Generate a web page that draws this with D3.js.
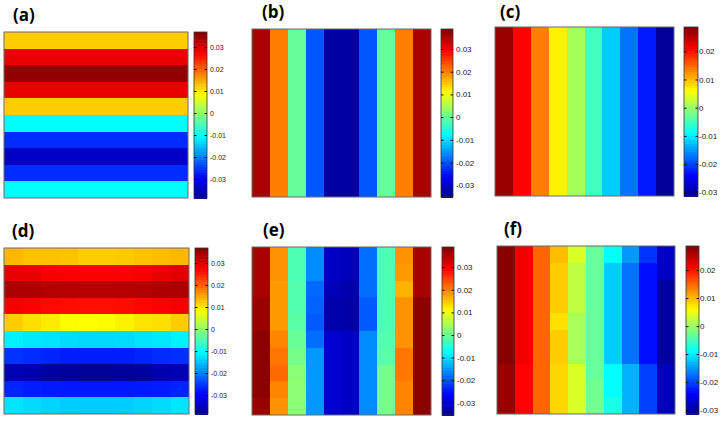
<!DOCTYPE html>
<html>
<head>
<meta charset="utf-8">
<script src="https://cdn.jsdelivr.net/npm/d3@7"></script>
<style>
body { margin: 0; background: #fff; }
svg { display: block; }
rect.cell, rect.step { shape-rendering: crispEdges; }
.cb text { font-family: Arial, "Liberation Sans", sans-serif; fill: #222; }
.plabel { font-family: "Open Sans", sans-serif; font-weight: bold; font-size: 17px; fill: #000; }
</style>
</head>
<body>
<svg id="chart" width="726" height="421"></svg>
<script>
// (a) one value per row, top to bottom
var rowsA = [0.0123, 0.029, 0.0355, 0.029, 0.0123, -0.0105, -0.026, -0.034, -0.026, -0.0105];
// (b) and (c) one value per column, left to right
var colsB = [0.0358, 0.0203, -0.0002, -0.0197, -0.0335, -0.0335, -0.0197, -0.0002, 0.0203, 0.0358];
var colsC = [0.0271, 0.021, 0.0136, 0.0069, 0.0009, -0.0051, -0.0118, -0.017, -0.0223, -0.0306];

// (d), (e), (f) full 10x10 grids, row by row
var gridD = [
  [0.0138, 0.0132, 0.0132, 0.013, 0.0123, 0.0123, 0.0125, 0.013, 0.0135, 0.0138],
  [0.029, 0.029, 0.028, 0.0275, 0.0274, 0.0274, 0.0275, 0.028, 0.029, 0.0296],
  [0.0335, 0.0333, 0.033, 0.0328, 0.0327, 0.0327, 0.0328, 0.033, 0.0333, 0.0335],
  [0.028, 0.0275, 0.0268, 0.0265, 0.0264, 0.0264, 0.0265, 0.027, 0.0275, 0.028],
  [0.0123, 0.011, 0.010, 0.0088, 0.0085, 0.0088, 0.0095, 0.0105, 0.011, 0.0123],
  [-0.0113, -0.012, -0.0125, -0.013, -0.0132, -0.0132, -0.013, -0.0125, -0.012, -0.0113],
  [-0.0254, -0.026, -0.0265, -0.027, -0.027, -0.027, -0.027, -0.0265, -0.026, -0.0258],
  [-0.0355, -0.036, -0.0368, -0.0375, -0.0377, -0.0377, -0.0375, -0.037, -0.036, -0.0355],
  [-0.0265, -0.027, -0.0273, -0.0275, -0.0275, -0.0275, -0.0275, -0.0273, -0.027, -0.0265],
  [-0.0122, -0.013, -0.0135, -0.014, -0.0141, -0.0141, -0.014, -0.0135, -0.013, -0.0122]
];
var gridE = [
  [0.036, 0.019, -0.002, -0.016, -0.031, -0.032, -0.018, -0.002, 0.019, 0.036],
  [0.036, 0.019, -0.002, -0.016, -0.031, -0.032, -0.018, -0.002, 0.0185, 0.036],
  [0.036, 0.0185, -0.0015, -0.0185, -0.032, -0.033, -0.018, -0.002, 0.0166, 0.036],
  [0.037, 0.0185, -0.0015, -0.019, -0.033, -0.0335, -0.0195, -0.002, 0.019, 0.038],
  [0.037, 0.0185, -0.001, -0.0195, -0.033, -0.0335, -0.0195, -0.002, 0.019, 0.038],
  [0.038, 0.020, 0.000, -0.018, -0.030, -0.031, -0.016, -0.0015, 0.019, 0.038],
  [0.038, 0.021, 0.001, -0.015, -0.030, -0.031, -0.016, -0.001, 0.021, 0.038],
  [0.038, 0.022, 0.0025, -0.015, -0.030, -0.031, -0.016, 0.001, 0.021, 0.038],
  [0.038, 0.020, 0.0027, -0.015, -0.030, -0.031, -0.016, 0.001, 0.020, 0.038],
  [0.037, 0.019, 0.0025, -0.015, -0.030, -0.031, -0.016, 0.001, 0.020, 0.038]
];
var gridF = [
  [0.028, 0.0219, 0.0151, 0.0099, 0.0039, -0.0029, -0.0089, -0.0149, -0.0209, -0.0277],
  [0.028, 0.0219, 0.0151, 0.0091, 0.0024, -0.0029, -0.0119, -0.0172, -0.0232, -0.0277],
  [0.028, 0.0219, 0.0151, 0.0091, 0.0024, -0.0029, -0.0119, -0.0172, -0.0232, -0.0299],
  [0.028, 0.0219, 0.0151, 0.0091, 0.0024, -0.0029, -0.0119, -0.0172, -0.0232, -0.0299],
  [0.028, 0.0219, 0.0151, 0.0079, 0.0009, -0.0029, -0.0119, -0.0172, -0.0232, -0.0299],
  [0.028, 0.0219, 0.0151, 0.0091, 0.0009, -0.0029, -0.0119, -0.0172, -0.0232, -0.0299],
  [0.028, 0.0219, 0.0151, 0.0091, 0.0009, -0.0029, -0.0119, -0.0172, -0.0232, -0.0299],
  [0.027, 0.021, 0.0151, 0.0085, 0.0039, -0.0029, -0.0089, -0.0134, -0.0202, -0.0284],
  [0.027, 0.021, 0.0151, 0.0085, 0.0039, -0.0022, -0.0089, -0.0134, -0.0202, -0.0284],
  [0.027, 0.021, 0.0151, 0.0085, 0.0039, -0.0022, -0.0074, -0.0134, -0.0202, -0.0284]
];

// colorbar limits
var limA = [-0.0386, 0.0368], limB = [-0.0352, 0.0388], limC = [-0.0313, 0.0286];
var limD = [-0.0386, 0.0368], limE = [-0.0354, 0.0389], limF = [-0.0314, 0.0286];
var ticks7 = [-0.03, -0.02, -0.01, 0, 0.01, 0.02, 0.03];
var ticks6 = [-0.03, -0.02, -0.01, 0, 0.01, 0.02];
var panelNames = ['(a)', '(b)', '(c)', '(d)', '(e)', '(f)'];

// jet colormap
var jetStops = [0, 0.125, 0.375, 0.625, 0.875, 1];
var jetColors = ['#00008f', '#0000ff', '#00ffff', '#ffff00', '#ff0000', '#800000'];

var svg = d3.select('#chart');

function jetScale(lim){
	return d3.scaleLinear()
		.domain(jetStops.map(function(t){ return lim[0] + t*(lim[1]-lim[0]); }))
		.range(jetColors)
		.clamp(true);
}

// mode: 'rows' (one value per row), 'cols' (one per column) or 'grid'
function drawPanel(p){
	var g = svg.append('g');
	var color = jetScale(p.lim);
	var xs = d3.scaleBand().domain(d3.range(10)).range([p.x0, p.x1]);
	var ys = d3.scaleBand().domain(d3.range(10)).range([p.y0, p.y1]);

	var cells = [];
	for(var i=0; i<10; i++){
		for(var j=0; j<10; j++){
			var v;
			if(p.mode=='rows') v = p.data[i];
			else if(p.mode=='cols') v = p.data[j];
			else v = p.data[i][j];
			cells.push({r:i, c:j, v:v});
		}
	}
	g.selectAll('rect.cell').data(cells).enter().append('rect')
		.attr('class', 'cell')
		.attr('x', function(d){ return Math.round(xs(d.c)); })
		.attr('y', function(d){ return Math.round(ys(d.r)); })
		.attr('width', function(d){ return Math.round(xs(d.c)+xs.bandwidth()) - Math.round(xs(d.c)); })
		.attr('height', function(d){ return Math.round(ys(d.r)+ys.bandwidth()) - Math.round(ys(d.r)); })
		.attr('fill', function(d){ return color(d.v); });

	g.append('rect')
		.attr('x', p.x0).attr('y', p.y0)
		.attr('width', p.x1-p.x0).attr('height', p.y1-p.y0)
		.attr('fill', 'none').attr('stroke', '#6b6b6b').attr('stroke-width', 1);

	// colorbar
	var cb = g.append('g').attr('class', 'cb');
	var yc = d3.scaleLinear().domain(p.lim).range([p.y1, p.y0]);
	var steps = d3.range(64).map(function(k){ return p.lim[0] + (k+0.5)*(p.lim[1]-p.lim[0])/64; });
	var stepH = (p.y1-p.y0)/64;
	cb.selectAll('rect.step').data(steps).enter().append('rect')
		.attr('class', 'step')
		.attr('x', p.cx0)
		.attr('y', function(d){ return yc(d) - stepH/2; })
		.attr('width', p.cx1-p.cx0)
		.attr('height', stepH+0.6)
		.attr('fill', function(d){ return color(d); });
	cb.append('rect')
		.attr('x', p.cx0).attr('y', p.y0)
		.attr('width', p.cx1-p.cx0).attr('height', p.y1-p.y0)
		.attr('fill', 'none').attr('stroke', '#333').attr('stroke-width', 0.8);

	var axis = d3.axisRight(yc).tickValues(p.ticks).tickSize(-2.5).tickPadding(p.pad)
		.tickFormat(function(d){ return d==0 ? '0' : String(d); });
	var ax = cb.append('g').attr('transform', 'translate(' + p.cx1 + ',0)').call(axis);
	ax.select('.domain').remove();
	ax.selectAll('line').attr('stroke', '#111');
	ax.selectAll('text').style('font-size', p.fs + 'px');
	var axl = cb.append('g').attr('transform', 'translate(' + p.cx0 + ',0)')
		.call(d3.axisLeft(yc).tickValues(p.ticks).tickSize(-2.5).tickFormat(''));
	axl.select('.domain').remove();
	axl.selectAll('line').attr('stroke', '#111');

	svg.append('text').attr('class', 'plabel')
		.attr('x', p.lx).attr('y', p.ly).text(p.name);
}

var panels = [
	{name:panelNames[0], mode:'rows', data:rowsA, lim:limA, ticks:ticks7, x0:4, x1:188, y0:32, y1:198, cx0:194, cx1:207, lx:13, ly:21, fs:7, pad:3},
	{name:panelNames[1], mode:'cols', data:colsB, lim:limB, ticks:ticks7, x0:252, x1:431, y0:29, y1:197, cx0:441, cx1:453, lx:262, ly:18, fs:8, pad:3},
	{name:panelNames[2], mode:'cols', data:colsC, lim:limC, ticks:ticks6, x0:495, x1:674, y0:27, y1:196, cx0:684, cx1:698, lx:500, ly:18, fs:8, pad:1},
	{name:panelNames[3], mode:'grid', data:gridD, lim:limD, ticks:ticks7, x0:4, x1:189, y0:248, y1:414, cx0:195, cx1:208, lx:12, ly:237, fs:7, pad:3},
	{name:panelNames[4], mode:'grid', data:gridE, lim:limE, ticks:ticks7, x0:252, x1:431, y0:247, y1:415, cx0:442, cx1:454, lx:263, ly:236, fs:8, pad:3},
	{name:panelNames[5], mode:'grid', data:gridF, lim:limF, ticks:ticks6, x0:497, x1:675, y0:246, y1:414, cx0:686, cx1:699, lx:504, ly:235, fs:8, pad:1}
];

panels.forEach(drawPanel);
</script>
</body>
</html>
